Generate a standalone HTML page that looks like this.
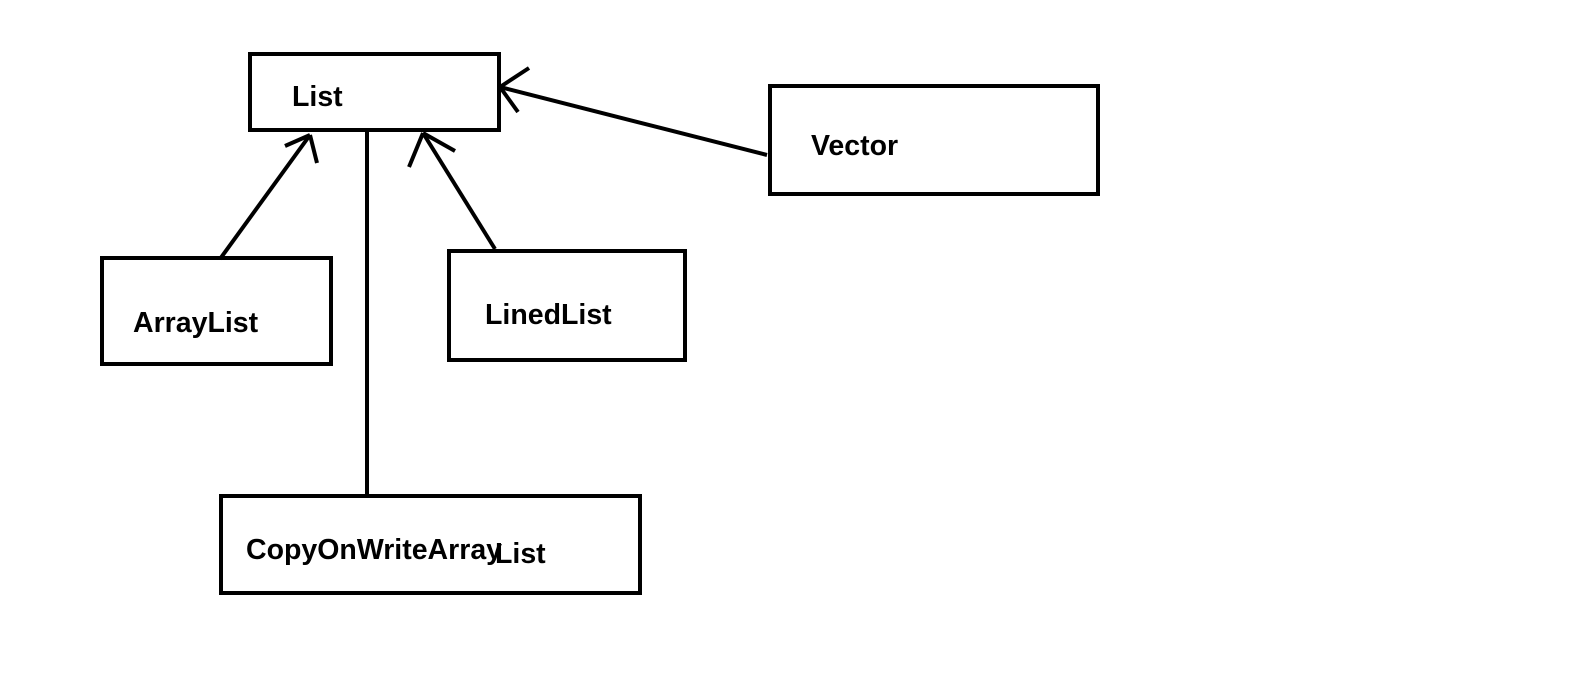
<!DOCTYPE html>
<html><head><style>
body{margin:0;background:#fff;}
svg text{font-family:"Liberation Sans",sans-serif;font-weight:bold;font-size:28.5px;fill:#000;}
</style></head><body>
<svg width="1594" height="672" viewBox="0 0 1594 672" xmlns="http://www.w3.org/2000/svg">
<g fill="none" stroke="#000" stroke-width="4">
<rect x="250" y="54" width="249" height="76"/>
<rect x="770" y="86" width="328" height="108"/>
<rect x="102" y="258" width="229" height="106"/>
<rect x="449" y="251" width="236" height="109"/>
<rect x="221" y="496" width="419" height="97"/>
<line x1="367" y1="130" x2="367" y2="496"/>
<line x1="220" y1="259" x2="310" y2="135"/>
<line x1="310" y1="135" x2="285" y2="146"/>
<line x1="310" y1="135" x2="317" y2="163"/>
<line x1="495" y1="249" x2="423" y2="133"/>
<line x1="423" y1="133" x2="455" y2="151"/>
<line x1="423" y1="133" x2="409" y2="167"/>
<line x1="767" y1="155" x2="500" y2="87"/>
<line x1="500" y1="87" x2="529" y2="68"/>
<line x1="500" y1="87" x2="518" y2="112"/>
</g>
<text x="292" y="106">List</text>
<text x="811" y="155">Vector</text>
<text x="133" y="332">ArrayList</text>
<text x="485" y="324">LinedList</text>
<text x="246" y="559">CopyOnWriteArray</text>
<text x="495" y="563">List</text>
</svg>
</body></html>
